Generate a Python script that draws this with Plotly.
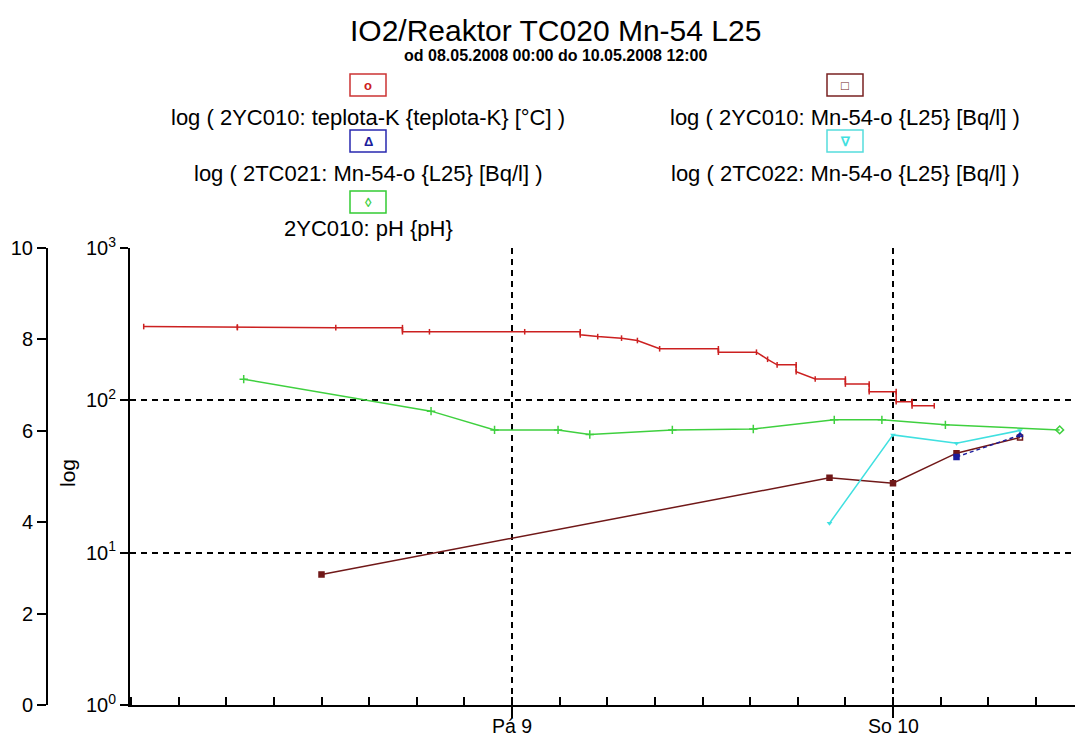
import plotly.graph_objects as go
from datetime import datetime, timedelta

# ---------------------------------------------------------------- data
START = datetime(2008, 5, 8, 0, 0)

# 2YC010 temperature [°C] (hours from start, value)
temp_h = [0.8, 6.7, 6.7, 12.9, 17.1, 17.1, 18.8, 24.8, 28.3, 28.3, 29.4, 30.9,
          31.9, 33.3, 37.0, 37.0, 39.4, 40.1, 40.7, 41.9, 41.9, 43.1, 45.0,
          45.0, 46.5, 46.5, 48.2, 48.2, 49.2, 49.2, 50.6]
temp_v = [305, 303, 300, 300, 300, 282, 282, 282, 282, 269, 262, 256,
          247, 218, 218, 207, 207, 186, 171, 171, 154, 138, 138,
          128, 128, 114, 114, 98, 98, 92, 92]

# 2YC010 Mn-54 [Bq/l]
yc010_h = [12.0, 44.0, 48.0, 52.0, 56.0]
yc010_v = [7.2, 31.0, 28.6, 45.0, 57.0]

# 2TC021 Mn-54 [Bq/l]
tc021_h = [52.0, 56.0]
tc021_v = [42.5, 59.0]

# 2TC022 Mn-54 [Bq/l]
tc022_h = [44.0, 48.0, 52.0, 56.0]
tc022_v = [15.6, 59.3, 52.3, 63.4]

# 2YC010 pH
ph_h = [7.1, 18.9, 22.9, 26.9, 28.9, 34.1, 39.2, 44.3, 47.3, 51.3, 58.5]
ph_v = [7.13, 6.43, 6.02, 6.02, 5.92, 6.02, 6.04, 6.24, 6.24, 6.13, 6.02]

day_ticks_h = [24, 48]
day_labels = ["Pá 9", "So 10"]
log_tickvals = [1, 10, 100, 1000]
log_ticktext = ["10<sup>0</sup>", "10<sup>1</sup>", "10<sup>2</sup>", "10<sup>3</sup>"]

TITLE = "IO2/Reaktor TC020 Mn-54 L25"
SUBTITLE = "od 08.05.2008 00:00 do 10.05.2008 12:00"

# ---------------------------------------------------------------- layout geometry
W, H = 1075, 738
TOP, BOTTOM = 248, 705
X0_PX = 130
PX_PER_H = 15.875
FONT = "Arial, Liberation Sans, sans-serif"

RED = "#cc2020"
BROWN = "#701818"
BLUE = "#1c1c9c"
CYAN = "#40e0e0"
GREEN = "#3fd03f"


def t(h):
    return START + timedelta(hours=h)


def px(x):
    return x / W


def py(y):
    return (BOTTOM - y) / (BOTTOM - TOP)


x_start = t(-(131 - X0_PX) / PX_PER_H)
x_end = t((W - 131) / PX_PER_H)

fig = go.Figure()

fig.add_trace(go.Scatter(
    x=[t(h) for h in temp_h], y=temp_v, mode="lines+markers",
    name="log ( 2YC010: teplota-K {teplota-K} [°C] )",
    line=dict(color=RED, width=1.5),
    marker=dict(symbol="line-ns", size=4, line=dict(color=RED, width=1.5)),
    yaxis="y"))

fig.add_trace(go.Scatter(
    x=[t(h) for h in yc010_h], y=yc010_v, mode="lines+markers",
    name="log ( 2YC010: Mn-54-o {L25} [Bq/l] )",
    line=dict(color=BROWN, width=1.5),
    marker=dict(symbol=["square"] * (len(yc010_h) - 1) + ["square-open"],
                size=5, color=BROWN, line=dict(color=BROWN, width=1.5)),
    yaxis="y"))

fig.add_trace(go.Scatter(
    x=[t(h) for h in tc021_h], y=tc021_v, mode="lines+markers",
    name="log ( 2TC021: Mn-54-o {L25} [Bq/l] )",
    line=dict(color=BLUE, width=1.5, dash="4px,3px"),
    marker=dict(symbol=["square", "triangle-up-open"], size=5, color=BLUE,
                line=dict(color=BLUE, width=1.5)),
    yaxis="y"))

fig.add_trace(go.Scatter(
    x=[t(h) for h in tc022_h], y=tc022_v, mode="lines+markers",
    name="log ( 2TC022: Mn-54-o {L25} [Bq/l] )",
    line=dict(color=CYAN, width=1.5),
    marker=dict(symbol="triangle-down", size=5, color=CYAN),
    yaxis="y"))

fig.add_trace(go.Scatter(
    x=[t(h) for h in ph_h], y=ph_v, mode="lines+markers",
    name="2YC010: pH {pH}",
    line=dict(color=GREEN, width=1.5),
    marker=dict(symbol=["cross-thin-open"] * (len(ph_h) - 1) + ["diamond-open"],
                size=6, color=GREEN, line=dict(color=GREEN, width=1.5)),
    yaxis="y2"))

tick_font = dict(family=FONT, size=20, color="black")

fig.update_layout(
    width=W, height=H,
    margin=dict(l=0, r=0, t=TOP, b=H - BOTTOM, pad=0),
    paper_bgcolor="white", plot_bgcolor="white",
    showlegend=False,
    xaxis=dict(
        type="date", domain=[px(X0_PX), 1], range=[x_start, x_end],
        automargin=False,
        tickmode="array", tickvals=[t(h) for h in day_ticks_h], ticktext=day_labels,
        showticklabels=False,
        ticks="outside", ticklen=11, tickwidth=1.5, tickcolor="black",
        showline=True, linecolor="black", linewidth=2,
        showgrid=True, gridcolor="black", gridwidth=1.5, griddash="6px,5px",
        zeroline=False,
        minor=dict(tickmode="linear", tick0=START, dtick=3 * 3600 * 1000,
                   ticks="inside", ticklen=8, tickwidth=1.5, tickcolor="black",
                   showgrid=False),
    ),
    yaxis=dict(
        type="log", range=[0, 3], anchor="x", side="left", automargin=False,
        tickmode="array", tickvals=log_tickvals, ticktext=log_ticktext,
        ticks="outside", ticklen=8, tickwidth=1.5, tickcolor="black",
        tickfont=tick_font,
        showline=True, linecolor="black", linewidth=2,
        showgrid=True, gridcolor="black", gridwidth=1.5, griddash="6px,5px",
        zeroline=False,
    ),
    yaxis3=dict(
        type="log", range=[0, 3], anchor="x", side="left", overlaying="y",
        automargin=False,
        tickmode="array", tickvals=log_tickvals[1:],
        ticks="inside", ticklen=7, tickwidth=1.5, tickcolor="black",
        showticklabels=False, showline=False, showgrid=False, zeroline=False,
    ),
    yaxis2=dict(
        range=[0, 10], anchor="free", position=px(47), overlaying="y", side="left",
        automargin=False,
        tickmode="linear", tick0=0, dtick=2,
        ticks="outside", ticklen=9, tickwidth=1.5, tickcolor="black",
        tickfont=tick_font,
        showline=True, linecolor="black", linewidth=2,
        showgrid=False, zeroline=False,
    ),
    yaxis4=dict(
        range=[0, 10], anchor="free", position=px(47), overlaying="y", side="right",
        automargin=False,
        tickmode="array", tickvals=[2, 4, 6, 8],
        ticks="outside", ticklen=9, tickwidth=1.5, tickcolor="black",
        showticklabels=False, showline=False, showgrid=False, zeroline=False,
    ),
)

annotations = [
    dict(x=px(555), y=py(30), text=TITLE,
         font=dict(family=FONT, size=30, color="black")),
    dict(x=px(555), y=py(56), text="<b>" + SUBTITLE + "</b>",
         font=dict(family=FONT, size=16, color="black")),
    dict(x=px(67), y=py(473), text="log", textangle=-90,
         font=dict(family=FONT, size=21, color="black")),
]

# day labels on the time axis, placed at the day ticks
for h, lab in zip(day_ticks_h, day_labels):
    annotations.append(dict(x=t(h), xref="x", y=py(H), yref="paper", text=lab,
                            yanchor="bottom", borderpad=0,
                            font=dict(family=FONT, size=19.5, color="black")))

# legend: two columns of framed symbols with the series name below
legend_items = [
    (368, 85, 117, "o", RED, "#cc3333", "log ( 2YC010: teplota-K {teplota-K} [°C] )"),
    (368, 141, 173, "Δ", BLUE, "#2828b0", "log ( 2TC021: Mn-54-o {L25} [Bq/l] )"),
    (368, 202, 228, "◊", GREEN, "#33cc33", "2YC010: pH {pH}"),
    (845, 85, 117, "□", BROWN, "#7a2222", "log ( 2YC010: Mn-54-o {L25} [Bq/l] )"),
    (845, 141, 173, "∇", CYAN, "#55dddd", "log ( 2TC022: Mn-54-o {L25} [Bq/l] )"),
]
shapes = []
for cx, by, ty, sym, col, frame, label in legend_items:
    shapes.append(dict(type="rect", xref="paper", yref="paper",
                       x0=px(cx - 18), x1=px(cx + 18), y0=py(by + 11), y1=py(by - 11),
                       line=dict(color=frame, width=1.5), fillcolor="rgba(0,0,0,0)"))
    annotations.append(dict(x=px(cx), y=py(by), text="<b>" + sym + "</b>",
                            font=dict(family=FONT, size=13, color=col)))
    annotations.append(dict(x=px(cx), y=py(ty), text=label,
                            font=dict(family=FONT, size=22, color="black")))

for a in annotations:
    a.setdefault("xref", "paper")
    a.setdefault("yref", "paper")
    a.setdefault("yanchor", "middle")
    a.update(showarrow=False, xanchor="center")

fig.update_layout(annotations=annotations, shapes=shapes)

fig.write_html("out.html")
